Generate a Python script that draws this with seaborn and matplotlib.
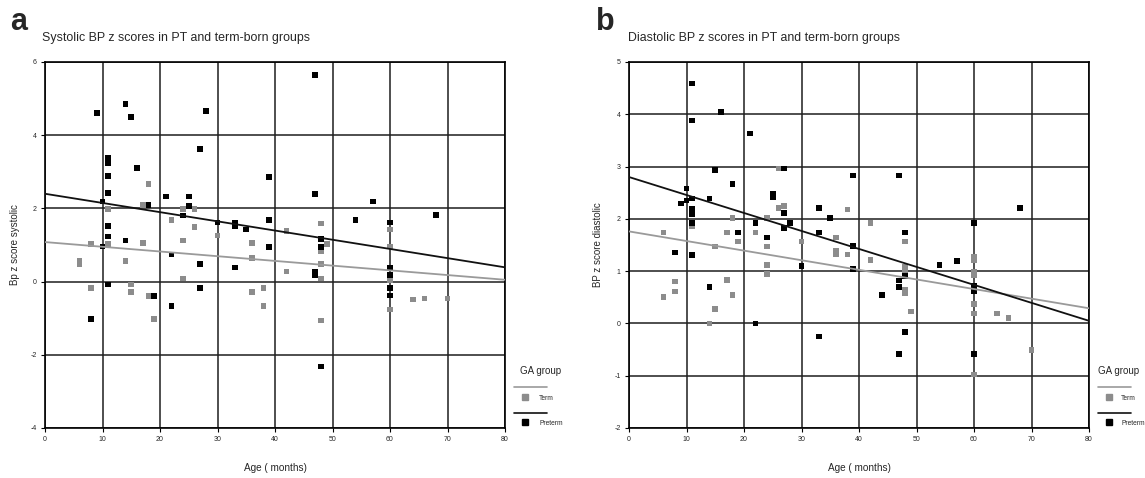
import pandas as pd
import numpy as np
import matplotlib.pyplot as plt
import seaborn as sns
from matplotlib.lines import Line2D

# --- systolic panel (a): ages in months, z scores ---
sys_term_age = [6, 6, 8, 8, 11, 11, 14, 15, 15, 17, 17, 18, 18, 19, 22, 24, 24, 24, 26, 26,
                30, 36, 36, 36, 38, 38, 42, 42, 48, 48, 48, 48, 48, 49, 60, 60, 60, 60, 64, 66, 70]
sys_term_z = [0.56, 0.47, 1.03, -0.18, 1.99, 1.03, 0.56, -0.08, -0.29, 2.10, 1.05, 2.66, -0.39, -1.02,
              1.69, 1.99, 1.12, 0.08, 1.99, 1.49, 1.26, 1.05, 0.65, -0.29, -0.18, -0.66, 1.39, 0.28,
              1.59, 0.84, 0.48, 0.08, -1.06, 1.02, 1.42, 0.96, 0.03, -0.76, -0.49, -0.46, -0.46]
sys_pre_age = [8, 9, 10, 10, 11, 11, 11, 11, 11, 11, 11, 14, 14, 15, 16, 18, 19, 21, 22, 22,
               24, 25, 25, 27, 28, 27, 27, 30, 33, 33, 33, 35, 39, 39, 39, 47, 47, 47, 47, 48,
               48, 48, 54, 57, 60, 60, 60, 60, 60, 68]
sys_pre_z = [-1.02, 4.60, 2.19, 0.96, 3.37, 3.23, 2.89, 2.42, 1.52, 1.23, -0.08, 4.86, 1.12, 4.49,
             3.10, 2.10, -0.39, 2.33, -0.66, 0.74, 1.80, 2.33, 2.06, 3.63, 4.66, 0.48, -0.18, 1.62,
             1.62, 1.52, 0.38, 1.42, 2.86, 1.69, 0.95, 5.64, 2.39, 0.28, 0.18, 1.16, 0.94, -2.32,
             1.69, 2.19, 1.62, 0.38, 0.18, -0.18, -0.38, 1.82]

# --- diastolic panel (b) ---
dia_term_age = [6, 6, 8, 8, 11, 14, 15, 15, 17, 17, 18, 18, 19, 22, 24, 24, 24, 24, 26, 26,
                27, 30, 36, 36, 36, 38, 38, 42, 42, 48, 48, 48, 48, 48, 49, 60, 60, 60, 60,
                60, 60, 60, 64, 66, 70]
dia_term_z = [1.74, 0.51, 0.80, 0.61, 1.86, 0.0, 1.47, 0.28, 1.74, 0.83, 2.02, 0.54, 1.57, 1.74,
              2.02, 1.47, 1.12, 0.95, 2.96, 2.21, 2.25, 1.57, 1.64, 1.38, 1.32, 2.18, 1.32, 1.92,
              1.21, 1.57, 1.09, 1.02, 0.65, 0.58, 0.23, 1.28, 1.21, 0.99, 0.93, 0.37, 0.19, -0.98,
              0.19, 0.10, -0.51]
dia_pre_age = [8, 9, 10, 10, 11, 11, 11, 11, 11, 11, 11, 14, 14, 15, 16, 18, 19, 21, 22, 22,
               24, 25, 25, 27, 27, 27, 28, 30, 33, 33, 33, 35, 39, 39, 39, 44, 47, 47, 47, 47,
               48, 48, 48, 54, 57, 60, 60, 60, 60, 68]
dia_pre_z = [1.36, 2.29, 2.58, 2.35, 4.59, 3.88, 2.39, 2.20, 2.09, 1.92, 1.31, 2.39, 0.70, 2.93,
             4.04, 2.67, 1.74, 3.63, 1.92, 0.0, 1.64, 2.48, 2.42, 2.96, 2.11, 1.83, 1.92, 1.10,
             2.21, 1.74, -0.25, 2.02, 2.83, 1.48, 1.04, 0.54, 2.83, 0.82, 0.70, -0.58, 1.74, 0.91,
             -0.16, 1.12, 1.19, 1.92, 0.72, 0.61, -0.58, 2.21]

# fitted lines (read at age 0 and 80)
fit_age = [0, 80]
sys_term_fit = [1.08, 0.05]
sys_pre_fit = [2.40, 0.39]
dia_term_fit = [1.76, 0.29]
dia_pre_fit = [2.80, 0.05]

groups = ['Term', 'Preterm']
colors = {'Term': '#8c8c8c', 'Preterm': '#000000'}
line_colors = {'Term': '#9a9a9a', 'Preterm': '#111111'}

sns.set_style("white")
plt.rcParams['font.family'] = ['Liberation Sans', 'DejaVu Sans']
plt.rcParams['axes.unicode_minus'] = False

W, H = 1145, 478
fig = plt.figure(figsize=(W / 100, H / 100), dpi=100)
ax_a = fig.add_axes([45 / W, 50 / H, 460 / W, 366 / H])
ax_b = fig.add_axes([629 / W, 50 / H, 460 / W, 366 / H])


def make_df(t_age, t_z, p_age, p_z):
    d1 = pd.DataFrame({'age': t_age, 'z': t_z, 'group': 'Term'})
    d2 = pd.DataFrame({'age': p_age, 'z': p_z, 'group': 'Preterm'})
    return pd.concat([d1, d2], ignore_index=True)


panels = [
    (ax_a, make_df(sys_term_age, sys_term_z, sys_pre_age, sys_pre_z), sys_term_fit, sys_pre_fit,
     (-4, 6), np.arange(-4, 7, 2), 'Bp z score systolic'),
    (ax_b, make_df(dia_term_age, dia_term_z, dia_pre_age, dia_pre_z), dia_term_fit, dia_pre_fit,
     (-2, 5), np.arange(-2, 6, 1), 'BP z score diastolic'),
]

for ax, df, tfit, pfit, ylim, yticks, ylab in panels:
    ax.set_axisbelow(True)
    ax.grid(True, color='#1e1e1e', lw=1.1)
    sns.scatterplot(data=df, x='age', y='z', hue='group', palette=colors, marker='s', s=16,
                    linewidth=0, legend=False, ax=ax, zorder=3)
    sns.lineplot(x=fit_age, y=tfit, color=line_colors['Term'], lw=1.3, ax=ax, zorder=4)
    sns.lineplot(x=fit_age, y=pfit, color=line_colors['Preterm'], lw=1.3, ax=ax, zorder=4)
    ax.set_xlim(0, 80)
    ax.set_xticks(range(0, 81, 10))
    ax.set_ylim(*ylim)
    ax.set_yticks(yticks)
    ax.tick_params(labelsize=5, length=3, width=0.8, pad=3, direction='out', color='black',
                   left=True, bottom=True)
    for s in ax.spines.values():
        s.set_color('black')
        s.set_linewidth(1.2)
    ax.set_xlabel('Age ( months)', fontsize=7.2)
    ax.set_ylabel(ylab, fontsize=7)
    ax.xaxis.set_label_coords(0.5, -0.096)

ax_a.yaxis.set_label_coords(-0.054, 0.5)
ax_b.yaxis.set_label_coords(-0.057, 0.5)

# SPSS style legend, line above marker
leg_pos = {
    ax_a: dict(title_x=(520 - 45) / 460, line_x0=(514 - 45) / 460, line_x1=(547 - 45) / 460,
               mark_x=(525 - 45) / 460, text_x=(539 - 45) / 460),
    ax_b: dict(title_x=(1098 - 629) / 460, line_x0=(1098 - 629) / 460, line_x1=(1131 - 629) / 460,
               mark_x=(1109 - 629) / 460, text_x=(1121 - 629) / 460),
}
for ax, p in leg_pos.items():
    ax.text(p['title_x'], 0.156, 'GA group', transform=ax.transAxes, fontsize=7, va='center',
            ha='left')
    for g, ly, my in [('Term', 0.112, 0.085), ('Preterm', 0.041, 0.016)]:
        ax.add_line(Line2D([p['line_x0'], p['line_x1']], [ly, ly], color=line_colors[g], lw=1.2,
                           transform=ax.transAxes, clip_on=False))
        ax.add_line(Line2D([p['mark_x']], [my], marker='s', ms=3.8, color=colors[g], lw=0,
                           transform=ax.transAxes, clip_on=False))
        ax.text(p['text_x'], my - 0.004, g, transform=ax.transAxes, fontsize=4.8, va='center',
                ha='left')

fig.text(42 / W, 1 - 40.7 / H, 'Systolic BP z scores in PT and term-born groups', fontsize=8.9,
         va='baseline')
fig.text(628 / W, 1 - 40.7 / H, 'Diastolic BP z scores in PT and term-born groups', fontsize=8.9,
         va='baseline')
fig.text(10 / W, 1 - 30 / H, 'a', fontsize=22, fontweight='bold', va='baseline')
fig.text(596 / W, 1 - 30 / H, 'b', fontsize=22, fontweight='bold', va='baseline')

fig.savefig('out.png', dpi=100, facecolor='white')
